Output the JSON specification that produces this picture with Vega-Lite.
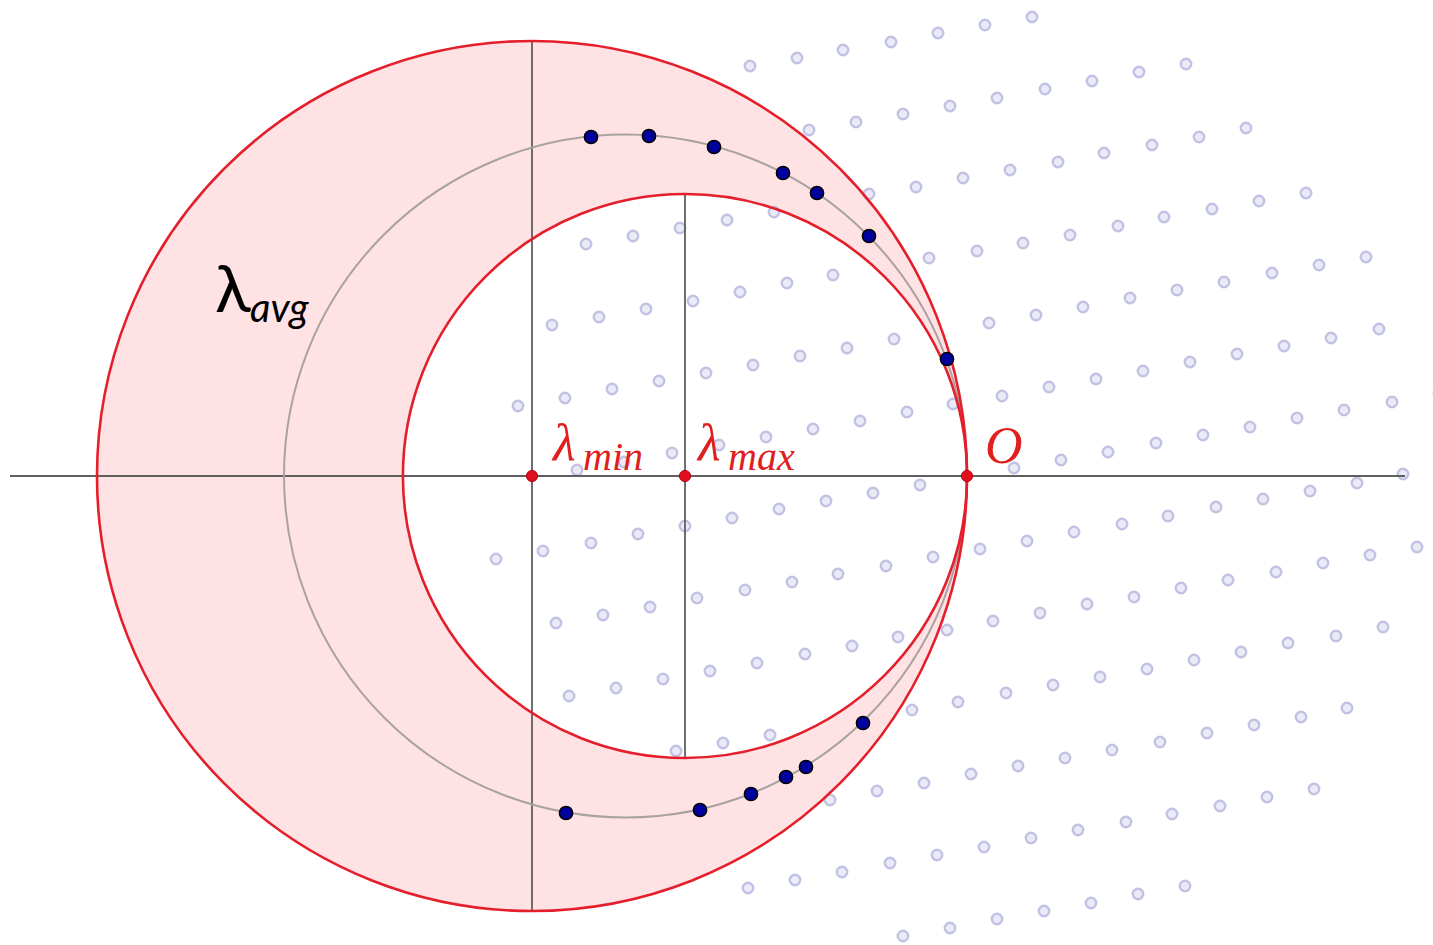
{
  "$schema": "https://vega.github.io/schema/vega-lite/v6.json",
  "width": 1433,
  "height": 945,
  "padding": 0,
  "autosize": {"type": "none"},
  "background": "white",
  "config": {"view": {"stroke": null}},
  "datasets": {
    "circles": [
      {"name": "outer", "x": -4.35, "y": 0, "r": 4.35},
      {"name": "inner", "x": -2.82, "y": 0, "r": 2.82},
      {"name": "avg", "x": -3.415, "y": 0, "r": 3.415}
    ],
    "segments": [
      {"x": -9.57, "y": 0, "x2": 4.38, "y2": 0},
      {"x": -4.35, "y": 4.34, "x2": -4.35, "y2": -4.35},
      {"x": -2.82, "y": 2.81, "x2": -2.82, "y2": -2.81}
    ],
    "field": [
      {"x": -2.17, "y": 4.10}, {"x": -1.70, "y": 4.18}, {"x": -1.24, "y": 4.26}, {"x": -0.76, "y": 4.34}, {"x": -0.29, "y": 4.43}, {"x": 0.18, "y": 4.51}, {"x": 0.65, "y": 4.59},
      {"x": -1.58, "y": 3.46}, {"x": -1.11, "y": 3.54}, {"x": -0.64, "y": 3.62}, {"x": -0.17, "y": 3.70}, {"x": 0.30, "y": 3.78}, {"x": 0.78, "y": 3.87}, {"x": 1.25, "y": 3.95}, {"x": 1.72, "y": 4.04}, {"x": 2.19, "y": 4.12},
      {"x": -3.81, "y": 2.32}, {"x": -3.34, "y": 2.40}, {"x": -2.87, "y": 2.48}, {"x": -2.40, "y": 2.56}, {"x": -1.93, "y": 2.64}, {"x": -0.98, "y": 2.82}, {"x": -0.51, "y": 2.89}, {"x": -0.04, "y": 2.98}, {"x": 0.43, "y": 3.06}, {"x": 0.91, "y": 3.14}, {"x": 1.37, "y": 3.23}, {"x": 1.85, "y": 3.31}, {"x": 2.32, "y": 3.39}, {"x": 2.79, "y": 3.48},
      {"x": -4.15, "y": 1.51}, {"x": -3.68, "y": 1.59}, {"x": -3.21, "y": 1.67}, {"x": -2.74, "y": 1.75}, {"x": -2.27, "y": 1.84}, {"x": -1.80, "y": 1.93}, {"x": -1.34, "y": 2.01}, {"x": -0.38, "y": 2.18}, {"x": 0.10, "y": 2.25}, {"x": 0.56, "y": 2.33}, {"x": 1.03, "y": 2.41}, {"x": 1.51, "y": 2.50}, {"x": 1.97, "y": 2.59}, {"x": 2.45, "y": 2.67}, {"x": 2.92, "y": 2.75}, {"x": 3.39, "y": 2.83},
      {"x": -4.49, "y": 0.70}, {"x": -4.02, "y": 0.78}, {"x": -3.55, "y": 0.87}, {"x": -3.08, "y": 0.95}, {"x": -2.61, "y": 1.03}, {"x": -2.14, "y": 1.11}, {"x": -1.67, "y": 1.20}, {"x": -1.20, "y": 1.28}, {"x": -0.73, "y": 1.37}, {"x": 0.22, "y": 1.53}, {"x": 0.69, "y": 1.61}, {"x": 1.16, "y": 1.69}, {"x": 1.63, "y": 1.78}, {"x": 2.10, "y": 1.86}, {"x": 2.57, "y": 1.94}, {"x": 3.05, "y": 2.03}, {"x": 3.52, "y": 2.11}, {"x": 3.99, "y": 2.19},
      {"x": -3.90, "y": 0.06}, {"x": -3.43, "y": 0.14}, {"x": -2.95, "y": 0.23}, {"x": -2.48, "y": 0.31}, {"x": -2.01, "y": 0.39}, {"x": -1.54, "y": 0.47}, {"x": -1.07, "y": 0.55}, {"x": -0.60, "y": 0.64}, {"x": -0.14, "y": 0.72}, {"x": 0.35, "y": 0.80}, {"x": 0.82, "y": 0.89}, {"x": 1.29, "y": 0.97}, {"x": 1.76, "y": 1.05}, {"x": 2.23, "y": 1.14}, {"x": 2.70, "y": 1.22}, {"x": 3.17, "y": 1.30}, {"x": 3.64, "y": 1.38}, {"x": 4.12, "y": 1.47},
      {"x": -4.71, "y": -0.83}, {"x": -4.24, "y": -0.75}, {"x": -3.76, "y": -0.67}, {"x": -3.29, "y": -0.58}, {"x": -2.82, "y": -0.50}, {"x": -2.35, "y": -0.42}, {"x": -1.88, "y": -0.33}, {"x": -1.41, "y": -0.25}, {"x": -0.94, "y": -0.17}, {"x": -0.47, "y": -0.09}, {"x": 0.47, "y": 0.08}, {"x": 0.94, "y": 0.16}, {"x": 1.41, "y": 0.24}, {"x": 1.89, "y": 0.33}, {"x": 2.36, "y": 0.41}, {"x": 2.83, "y": 0.49}, {"x": 3.30, "y": 0.58}, {"x": 3.77, "y": 0.66}, {"x": 4.25, "y": 0.74}, {"x": 4.72, "y": 0.83},
      {"x": -4.11, "y": -1.47}, {"x": -3.64, "y": -1.39}, {"x": -3.17, "y": -1.31}, {"x": -2.70, "y": -1.22}, {"x": -2.22, "y": -1.14}, {"x": -1.75, "y": -1.06}, {"x": -1.29, "y": -0.98}, {"x": -0.81, "y": -0.90}, {"x": -0.34, "y": -0.81}, {"x": 0.13, "y": -0.73}, {"x": 0.60, "y": -0.65}, {"x": 1.07, "y": -0.56}, {"x": 1.55, "y": -0.48}, {"x": 2.01, "y": -0.40}, {"x": 2.49, "y": -0.31}, {"x": 2.96, "y": -0.23}, {"x": 3.43, "y": -0.15}, {"x": 3.90, "y": -0.07}, {"x": 4.36, "y": 0.02},
      {"x": -3.98, "y": -2.20}, {"x": -3.51, "y": -2.12}, {"x": -3.04, "y": -2.03}, {"x": -2.57, "y": -1.95}, {"x": -2.10, "y": -1.87}, {"x": -1.62, "y": -1.78}, {"x": -1.15, "y": -1.70}, {"x": -0.69, "y": -1.61}, {"x": -0.20, "y": -1.54}, {"x": 0.26, "y": -1.45}, {"x": 0.73, "y": -1.37}, {"x": 1.20, "y": -1.28}, {"x": 1.67, "y": -1.21}, {"x": 2.14, "y": -1.12}, {"x": 2.61, "y": -1.04}, {"x": 3.09, "y": -0.96}, {"x": 3.56, "y": -0.87}, {"x": 4.03, "y": -0.79}, {"x": 4.50, "y": -0.71},
      {"x": -2.91, "y": -2.75}, {"x": -2.44, "y": -2.67}, {"x": -1.97, "y": -2.59}, {"x": -0.55, "y": -2.34}, {"x": -0.09, "y": -2.26}, {"x": 0.39, "y": -2.17}, {"x": 0.86, "y": -2.09}, {"x": 1.33, "y": -2.01}, {"x": 1.80, "y": -1.93}, {"x": 2.27, "y": -1.84}, {"x": 2.74, "y": -1.76}, {"x": 3.21, "y": -1.67}, {"x": 3.69, "y": -1.60}, {"x": 4.16, "y": -1.51},
      {"x": -1.37, "y": -3.24}, {"x": -0.90, "y": -3.15}, {"x": -0.43, "y": -3.07}, {"x": 0.04, "y": -2.98}, {"x": 0.51, "y": -2.90}, {"x": 0.98, "y": -2.82}, {"x": 1.45, "y": -2.74}, {"x": 1.93, "y": -2.66}, {"x": 2.40, "y": -2.57}, {"x": 2.87, "y": -2.49}, {"x": 3.34, "y": -2.41}, {"x": 3.80, "y": -2.32},
      {"x": -2.19, "y": -4.12}, {"x": -1.72, "y": -4.04}, {"x": -1.25, "y": -3.96}, {"x": -0.77, "y": -3.87}, {"x": -0.30, "y": -3.79}, {"x": 0.17, "y": -3.71}, {"x": 0.64, "y": -3.62}, {"x": 1.11, "y": -3.54}, {"x": 1.59, "y": -3.46}, {"x": 2.05, "y": -3.38}, {"x": 2.53, "y": -3.30}, {"x": 3.00, "y": -3.21}, {"x": 3.47, "y": -3.13},
      {"x": -0.64, "y": -4.60}, {"x": -0.17, "y": -4.52}, {"x": 0.30, "y": -4.43}, {"x": 0.77, "y": -4.35}, {"x": 1.24, "y": -4.27}, {"x": 1.71, "y": -4.18}, {"x": 2.18, "y": -4.10}
    ],
    "samples": [
      {"x": -3.76, "y": 3.39}, {"x": -3.18, "y": 3.40}, {"x": -2.53, "y": 3.29}, {"x": -1.84, "y": 3.03}, {"x": -1.50, "y": 2.83}, {"x": -0.98, "y": 2.40}, {"x": -0.20, "y": 1.17},
      {"x": -4.01, "y": -3.37}, {"x": -2.67, "y": -3.34}, {"x": -2.16, "y": -3.18}, {"x": -1.81, "y": -3.01}, {"x": -1.61, "y": -2.91}, {"x": -1.04, "y": -2.47}
    ],
    "marks": [
      {"name": "lambda_min", "x": -4.35, "y": 0},
      {"name": "lambda_max", "x": -2.82, "y": 0},
      {"name": "origin", "x": 0, "y": 0}
    ],
    "labels": [
      {"kind": "avg", "main": "λ", "sub": "avg", "x": -7.52, "y": 1.64},
      {"kind": "pt", "main": "λ", "sub": "min", "x": -4.14, "y": 0.16},
      {"kind": "pt", "main": "λ", "sub": "max", "x": -2.69, "y": 0.16},
      {"kind": "pt", "main": "O", "sub": "", "x": 0.18, "y": 0.13}
    ]
  },
  "encoding": {
    "x": {"field": "x", "type": "quantitative", "scale": {"domain": [-9.67, 4.66], "nice": false, "zero": false}, "axis": null},
    "y": {"field": "y", "type": "quantitative", "scale": {"domain": [-4.69, 4.76], "nice": false, "zero": false}, "axis": null}
  },
  "layer": [
    {
      "data": {"name": "circles"},
      "transform": [{"filter": "datum.name === 'outer'"}],
      "mark": {"type": "arc", "theta": 0, "theta2": 6.2832, "fill": "#fee2e4", "stroke": null},
      "encoding": {"radius": {"field": "r", "type": "quantitative", "stack": null, "scale": {"type": "linear", "domain": [0, 1], "range": [0, 100]}}}
    },
    {
      "data": {"name": "circles"},
      "transform": [{"filter": "datum.name === 'inner'"}],
      "mark": {"type": "arc", "theta": 0, "theta2": 6.2832, "fill": "white", "stroke": null},
      "encoding": {"radius": {"field": "r", "type": "quantitative", "stack": null}}
    },
    {
      "data": {"name": "field"},
      "mark": {"type": "point", "shape": "circle", "filled": false, "size": 110, "fill": "#ebebf7", "fillOpacity": 1, "stroke": "#c2c2e4", "strokeWidth": 2.4}
    },
    {
      "data": {"name": "segments"},
      "mark": {"type": "rule", "color": "#5f5f5f", "strokeWidth": 1.8},
      "encoding": {"x2": {"field": "x2"}, "y2": {"field": "y2"}}
    },
    {
      "data": {"name": "circles"},
      "transform": [{"filter": "datum.name === 'avg'"}],
      "mark": {"type": "arc", "theta": 0, "theta2": 6.2832, "fillOpacity": 0, "stroke": "#aaa2a2", "strokeWidth": 2},
      "encoding": {"radius": {"field": "r", "type": "quantitative", "stack": null}}
    },
    {
      "data": {"name": "circles"},
      "transform": [{"filter": "datum.name !== 'avg'"}],
      "mark": {"type": "arc", "theta": 0, "theta2": 6.2832, "fillOpacity": 0, "stroke": "#e41f2b", "strokeWidth": 2.6},
      "encoding": {"radius": {"field": "r", "type": "quantitative", "stack": null}}
    },
    {
      "data": {"name": "samples"},
      "mark": {"type": "point", "shape": "circle", "filled": true, "size": 175, "fill": "#00009c", "fillOpacity": 1, "stroke": "#000000", "strokeWidth": 1.5, "opacity": 1}
    },
    {
      "data": {"name": "marks"},
      "mark": {"type": "point", "shape": "circle", "filled": true, "size": 125, "fill": "#e0101c", "fillOpacity": 1, "stroke": "#b00010", "strokeWidth": 1, "opacity": 1}
    },
    {
      "data": {"name": "labels"},
      "transform": [{"filter": "datum.kind === 'avg'"}],
      "mark": {"type": "text", "align": "left", "baseline": "alphabetic", "font": "Lato", "fontSize": 66, "color": "#000000"},
      "encoding": {"text": {"field": "main"}}
    },
    {
      "data": {"name": "labels"},
      "transform": [{"filter": "datum.kind === 'avg'"}],
      "mark": {"type": "text", "align": "left", "baseline": "alphabetic", "font": "Lato", "fontStyle": "italic", "fontSize": 40, "dx": 35, "dy": 10, "color": "#000000"},
      "encoding": {"text": {"field": "sub"}}
    },
    {
      "data": {"name": "labels"},
      "transform": [{"filter": "datum.kind === 'pt'"}],
      "mark": {"type": "text", "align": "left", "baseline": "alphabetic", "font": "Liberation Serif", "fontStyle": "italic", "fontSize": 52, "color": "#e0201e"},
      "encoding": {"text": {"field": "main"}}
    },
    {
      "data": {"name": "labels"},
      "transform": [{"filter": "datum.kind === 'pt'"}],
      "mark": {"type": "text", "align": "left", "baseline": "alphabetic", "font": "Liberation Serif", "fontStyle": "italic", "fontSize": 40, "dx": 30, "dy": 10, "color": "#e0201e"},
      "encoding": {"text": {"field": "sub"}}
    }
  ]
}
